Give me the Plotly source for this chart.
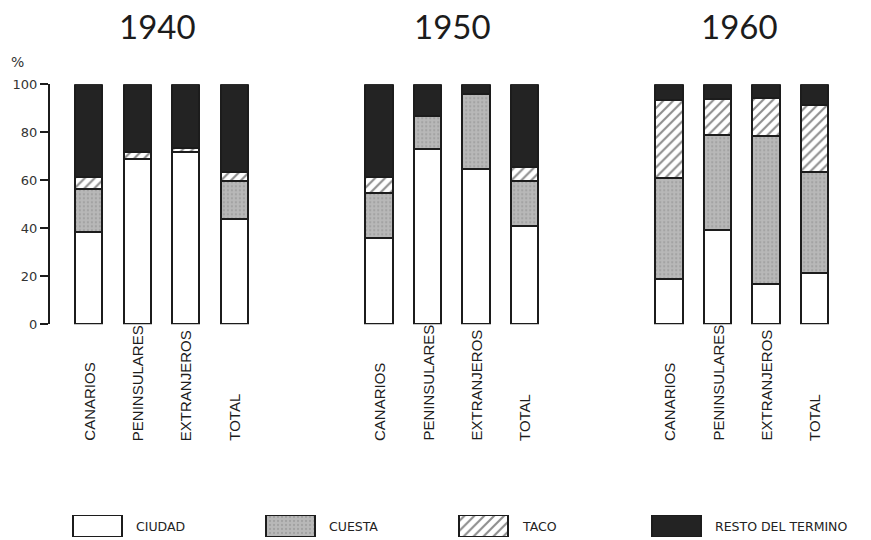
import plotly.graph_objects as go

years = ["1940", "1950", "1960"]
categories = ["CANARIOS", "PENINSULARES", "EXTRANJEROS", "TOTAL"]
series = ["CIUDAD", "CUESTA", "TACO", "RESTO DEL TERMINO"]

# percentages per year (rows) and category (columns)
ciudad = [[38.6, 68.9, 71.8, 43.9],
          [35.8, 72.9, 64.6, 41.0],
          [18.7, 39.3, 16.8, 21.2]]
cuesta = [[17.6, 0.0, 0.0, 15.8],
          [18.8, 13.9, 31.2, 18.7],
          [42.1, 39.6, 61.7, 42.3]]
taco = [[5.0, 2.8, 1.5, 3.8],
        [6.9, 0.0, 0.0, 6.0],
        [32.7, 15.0, 15.7, 27.9]]
resto = [[38.8, 28.3, 26.7, 36.5],
         [38.5, 13.2, 4.2, 34.3],
         [6.5, 6.1, 5.8, 8.6]]
y_ticks = [0, 20, 40, 60, 80, 100]

values = [ciudad, cuesta, taco, resto]

W, H = 871, 540
LINE = "#1c1c1c"
styles = [
    dict(color="white"),
    dict(color="#b2b2b2", pattern=dict(shape=".", fgcolor="#8a8a8a", bgcolor="#b8b8b8", size=4, solidity=0.25)),
    dict(color="white", pattern=dict(shape="/", fgcolor="#1c1c1c", bgcolor="white", size=7, solidity=0.3)),
    dict(color="#232323"),
]

fig = go.Figure()

group_first_px = [88.7, 379.0, 669.0]
pitch = 48.5
rng = [-0.8, 3.57]
dom_w = (rng[1] - rng[0]) * pitch
y0p, y100p = 324.3, 84.3
ydom = [(H - y0p) / H, (H - y100p) / H]
title_px = [157, 452, 739]

annotations = []
for g, yr in enumerate(years):
    ax = "" if g == 0 else str(g + 1)
    for s, name in enumerate(series):
        fig.add_trace(go.Bar(
            x=categories, y=values[s][g], name=name, showlegend=False,
            width=0.56, marker=dict(line=dict(color=LINE, width=2), **styles[s]),
            xaxis="x" + ax, yaxis="y" + ax, hoverinfo="x+y+name"))
    left = (group_first_px[g] + rng[0] * pitch) / W
    dom = [left, left + dom_w / W]
    fig.layout["xaxis" + ax] = dict(domain=dom, range=rng, type="category",
                                    showticklabels=False, showgrid=False,
                                    zeroline=False, showline=False, ticks="",
                                    anchor="y" + ax, automargin=False)
    fig.layout["yaxis" + ax] = dict(domain=ydom, range=[0, 100], anchor="x" + ax,
                                    showgrid=False, zeroline=False, automargin=False,
                                    showline=(g == 0), linecolor=LINE, linewidth=2,
                                    ticks="outside" if g == 0 else "", ticklen=8,
                                    tickwidth=2, tickcolor=LINE,
                                    tickvals=y_ticks, showticklabels=(g == 0),
                                    tickfont=dict(family="DejaVu Sans", size=13, color="#333"))
    # year title
    annotations.append(dict(text=yr, xref="paper", yref="paper",
                            x=title_px[g] / W, xanchor="center",
                            y=(H - 26) / H, yanchor="middle", showarrow=False,
                            font=dict(family="Lato", size=33, color="#1c1c1c")))
    # category labels (rotated)
    for c, cat in enumerate(categories):
        annotations.append(dict(text=cat, xref="x" + ax, yref="paper",
                                x=c, y=(H - 443) / H, yanchor="bottom",
                                xanchor="center", textangle=-90, showarrow=False,
                                font=dict(family="Liberation Sans", size=15, color="#1c1c1c")))

annotations.append(dict(text="%", xref="paper", yref="paper", x=17 / W, y=(H - 62) / H,
                        xanchor="center", yanchor="middle", showarrow=False,
                        font=dict(family="DejaVu Sans", size=14, color="#333")))

# legend row: one swatch bar per series on its own axis
leg_first_px, leg_pitch = 97.5, 193.0
leg_rng = [-leg_first_px / leg_pitch, (W - leg_first_px) / leg_pitch]
for s, name in enumerate(series):
    fig.add_trace(go.Bar(x=[name], y=[1], width=49 / leg_pitch, showlegend=False,
                         marker=dict(line=dict(color=LINE, width=2), **styles[s]),
                         xaxis="x4", yaxis="y4", hoverinfo="skip"))
    annotations.append(dict(text=name, xref="x4", yref="y4", x=s, y=0.5,
                            xshift=36, xanchor="left", yanchor="middle", showarrow=False,
                            font=dict(family="DejaVu Sans", size=12.5, color="#222")))
fig.layout["xaxis4"] = dict(domain=[0, 1], range=leg_rng, type="category",
                            categoryorder="array", categoryarray=series,
                            visible=False, anchor="y4", automargin=False)
fig.layout["yaxis4"] = dict(domain=[(H - 537) / H, (H - 515) / H], range=[0, 1],
                            visible=False, anchor="x4", automargin=False)

fig.update_layout(barmode="stack", width=W, height=H,
                  margin=dict(l=0, r=0, t=0, b=0, pad=0),
                  paper_bgcolor="white", plot_bgcolor="white",
                  annotations=annotations)

fig.write_html("out.html", config={"displayModeBar": False},
               post_script="document.body.style.margin='0px';document.body.style.padding='0px';")
